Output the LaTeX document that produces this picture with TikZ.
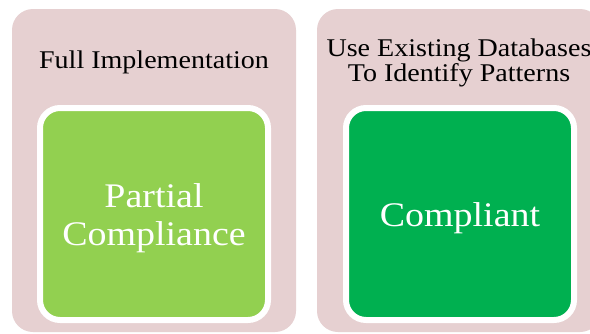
\documentclass[tikz,border=0pt]{standalone}
\usepackage{fontspec}
\newfontfamily\cam[FakeStretch=1.1]{Liberation Serif}
\definecolor{pinkbg}{HTML}{E6D0D1}
\definecolor{lgreen}{HTML}{92D050}
\definecolor{dgreen}{HTML}{00B050}
\tikzset{
  outerbox/.style={fill=pinkbg, draw=none, rounded corners=21pt, minimum width=284pt, minimum height=323pt, inner sep=0pt},
  innerbox/.style={draw=white, line width=6pt, rounded corners=20pt, minimum width=228pt, minimum height=212pt, inner sep=0pt},
  innertext/.style={align=center, inner sep=0pt, text=white, font=\cam\fontsize{34.5}{38}\selectfont},
  titletext/.style={align=center, inner sep=0pt, text=black, font=\cam\fontsize{25.5}{22}\selectfont}
}
\begin{document}
\begin{tikzpicture}[x=1pt,y=-1pt]
\useasboundingbox (0,0) rectangle (590,333);
\clip (0,0) rectangle (590,333);
\fill[white] (0,0) rectangle (590,333);
\node[outerbox] (L) at (154,170.5) {};
\node[outerbox] (R) at (459,170.5) {};
\node[innerbox, fill=lgreen] (LI) at (154,214) {};
\node[innerbox, fill=dgreen] (RI) at (460,214) {};
\node[innertext] (LIT) at ([yshift=-4pt]LI.center) {Partial\\Compliance};
\node[innertext] (RIT) at ([yshift=-4pt]RI.center) {Compliant};
\node[titletext] (LT) at (154,62) {Full Implementation};
\node[titletext] (RT) at (459,63) {Use Existing Databases\\To Identify Patterns};
\end{tikzpicture}
\end{document}
